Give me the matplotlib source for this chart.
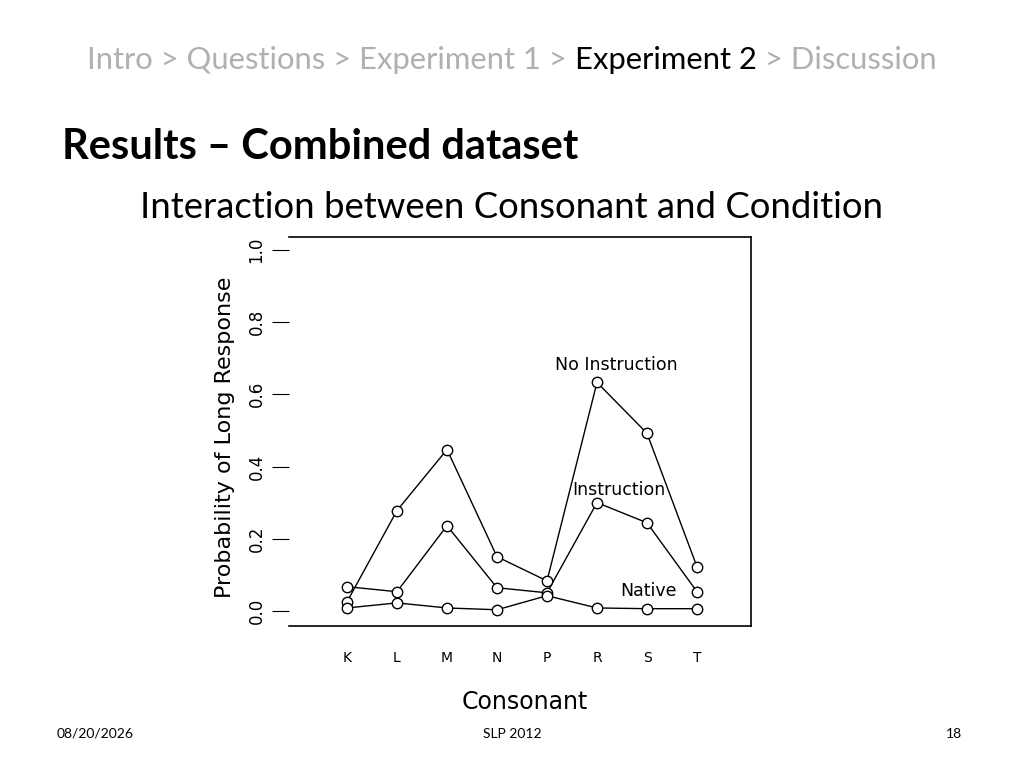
import matplotlib
matplotlib.use("Agg")
import matplotlib.pyplot as plt

consonants = ["K", "L", "M", "N", "P", "R", "S", "T"]
no_instruction = [0.025, 0.278, 0.447, 0.150, 0.083, 0.633, 0.492, 0.122]
instruction = [0.067, 0.053, 0.236, 0.064, 0.050, 0.300, 0.244, 0.053]
native = [0.008, 0.022, 0.008, 0.003, 0.042, 0.008, 0.006, 0.006]
series_labels = ["No Instruction", "Instruction", "Native"]
label_pos = [(4.16, 0.68), (4.5, 0.335), (5.46, 0.055)]

fig = plt.figure(figsize=(10.24, 7.68), dpi=100)
fig.patch.set_facecolor("white")
SF = "Lato"

# breadcrumb
parts = [("Intro > Questions > Experiment 1 > ", "#b0b0b0"), ("Experiment 2", "black"), (" > Discussion", "#b0b0b0")]
fig.canvas.draw()
r = fig.canvas.get_renderer()
widths = []
for s, c in parts:
    t = fig.text(0, 0, s, fontsize=22.3, family=SF)
    widths.append(t.get_window_extent(r).width)
    t.remove()
x = (1024 - sum(widths)) / 2
for (s, c), w in zip(parts, widths):
    fig.text(x / 1024, 1 - 60 / 768, s, fontsize=22.3, family=SF, color=c, va="center")
    x += w

fig.text(62 / 1024, 1 - 147 / 768, "Results – Combined dataset", fontsize=30, family=SF, weight="bold", va="center")
fig.text(511 / 1024, 1 - 207 / 768, "Interaction between Consonant and Condition", fontsize=26.3, family=SF, va="center", ha="center")
fig.text(57 / 1024, 1 - 734 / 768, "08/20/2026", fontsize=10, family=SF, va="center")
fig.text(512 / 1024, 1 - 734 / 768, "SLP 2012", fontsize=10, family=SF, va="center", ha="center")
fig.text(962 / 1024, 1 - 734 / 768, "18", fontsize=10, family=SF, va="center", ha="right")

ax = fig.add_axes([289 / 1024, 1 - 626 / 768, 462 / 1024, 389 / 768])
xs = list(range(len(consonants)))
for vals in (no_instruction, instruction, native):
    ax.plot(xs, vals, color="black", lw=1, zorder=2)
    ax.plot(xs, vals, ls="none", marker="o", ms=7.5, mfc="white", mec="black", mew=1, zorder=3)
for lab, (lx, ly) in zip(series_labels, label_pos):
    ax.text(lx, ly, lab, fontsize=12.5, ha="left", va="center", zorder=4)

ax.set_xlim(-1.16, 8.08)
ax.set_ylim(-0.042, 1.036)
ax.set_xticks(xs)
ax.set_xticklabels(consonants, fontsize=10)
ax.tick_params(axis="x", length=0, pad=18)
ax.set_yticks([0, 0.2, 0.4, 0.6, 0.8, 1.0])
ax.set_yticklabels(["0.0", "0.2", "0.4", "0.6", "0.8", "1.0"], rotation=90, va="center", fontsize=12)
ax.tick_params(axis="y", length=12, pad=5)
ax.spines["left"].set_visible(False)
ax.spines[["top", "right", "bottom"]].set_linewidth(1.2)
fig.text(525 / 1024, 1 - 702 / 768, "Consonant", fontsize=17, ha="center", va="center")
fig.text(225 / 1024, 1 - 437 / 768, "Probability of Long Response", fontsize=16, rotation=90, ha="center", va="center")

fig.savefig("out.png", dpi=100)
